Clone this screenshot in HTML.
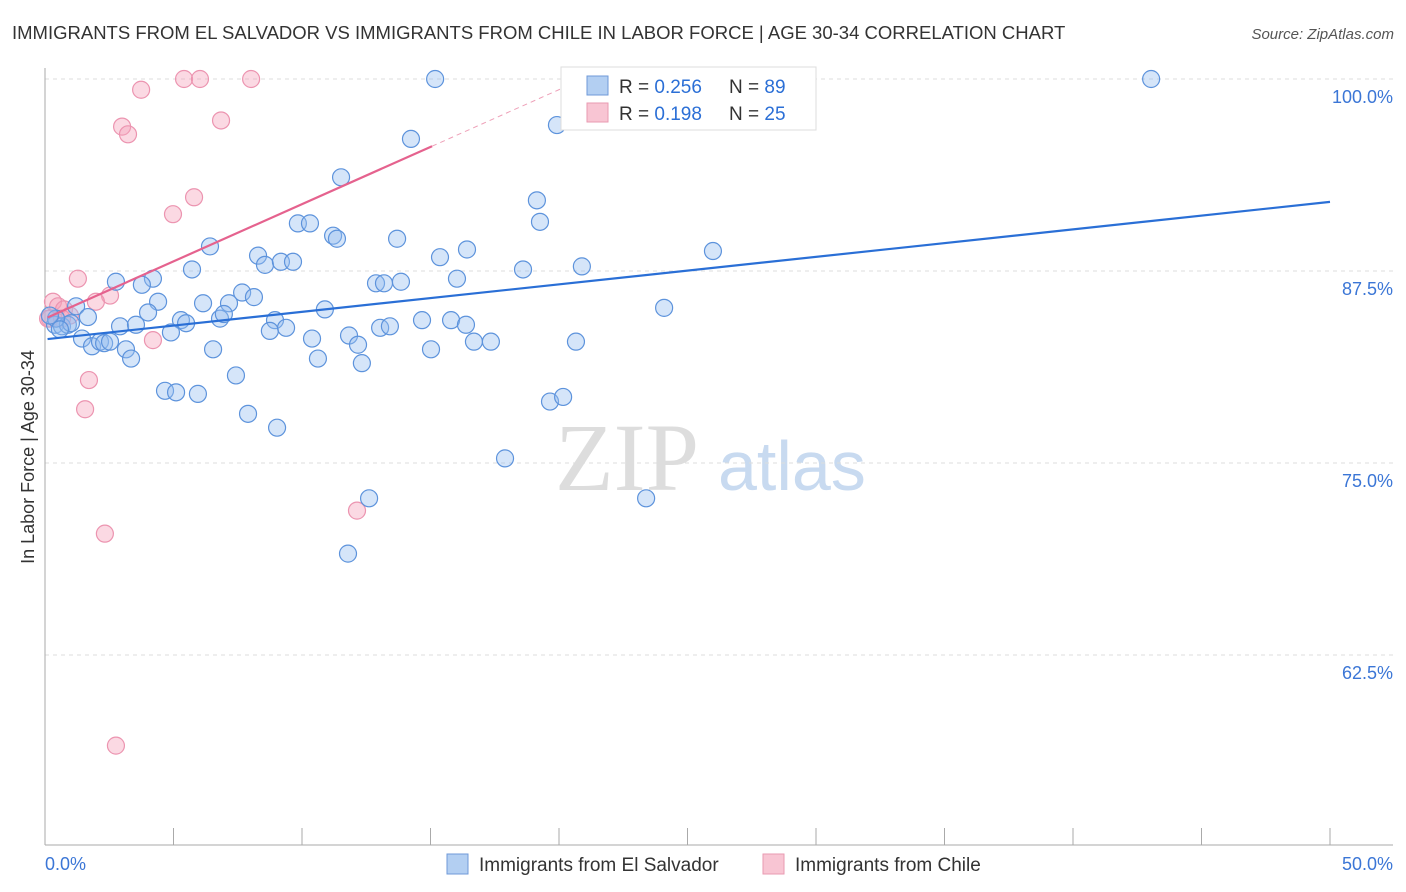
<!DOCTYPE html>
<html><head><meta charset="utf-8"><style>
body{margin:0;background:#fff;font-family:"Liberation Sans",sans-serif;}
svg{display:block}
</style></head><body>
<svg id="c" width="1406" height="892">
<text x="12" y="39" font-size="18.5" fill="#333">IMMIGRANTS FROM EL SALVADOR VS IMMIGRANTS FROM CHILE IN LABOR FORCE | AGE 30-34 CORRELATION CHART</text>
<text x="1394" y="39" font-size="15" fill="#555" font-style="italic" text-anchor="end">Source: ZipAtlas.com</text>
<text x="34" y="457" font-size="18" fill="#333" text-anchor="middle" transform="rotate(-90 34 457)">In Labor Force | Age 30-34</text>
<text x="555" y="490" font-size="96" fill="#ddd" font-family="Liberation Serif,serif">ZIP</text>
<text x="718" y="490" font-size="70" fill="#c8daf0">atlas</text>
<g id="grid"></g><g id="pts"></g><g id="lines"></g>
<g>
<rect x="561" y="67" width="255" height="63" fill="#fff" stroke="#ddd"/>
<rect x="587" y="76" width="21" height="19" fill="#b3cff2" stroke="#6f9ad8"/>
<rect x="587" y="103" width="21" height="19" fill="#f8c5d3" stroke="#e99ab2"/>
<text x="619" y="93" font-size="19" fill="#333">R = <tspan fill="#2b6fd6">0.256</tspan></text>
<text x="729" y="93" font-size="19" fill="#333">N = <tspan fill="#2b6fd6">89</tspan></text>
<text x="619" y="120" font-size="19" fill="#333">R = <tspan fill="#2b6fd6"> 0.198</tspan></text>
<text x="729" y="120" font-size="19" fill="#333">N = <tspan fill="#2b6fd6">25</tspan></text>
</g>
<g>
<rect x="447" y="854" width="21" height="20" fill="#b3cff2" stroke="#6f9ad8"/>
<text x="479" y="871" font-size="19" fill="#333">Immigrants from El Salvador</text>
<rect x="763" y="854" width="21" height="20" fill="#f8c5d3" stroke="#e99ab2"/>
<text x="795" y="871" font-size="19" fill="#333">Immigrants from Chile</text>
</g>
</svg>
<script>
const yTicks=[100,87.5,75,62.5];
const yTickLabels=["100.0%","87.5%","75.0%","62.5%"];
const xTickLabels=["0.0%","50.0%"];
const blueX=[15.18,43.04,19.92,14.24,11.52,19.14,19.26,9.84,10.31,6.42,11.21,11.36,13.70,16.42,15.37,25.99,8.29,8.56,9.18,9.65,5.72,18.60,20.89,2.76,4.20,3.77,16.03,12.88,13.19,13.85,7.67,8.13,4.40,6.15,7.16,10.89,1.21,4.01,24.09,1.67,6.81,6.96,5.29,5.49,8.95,14.67,15.80,16.38,0.39,0.66,0.89,1.01,2.92,3.54,4.90,8.75,9.38,11.83,13.04,13.42,1.44,1.83,2.14,2.30,2.53,3.15,3.35,6.54,10.39,12.18,16.69,17.35,20.66,15.02,10.62,12.33,7.43,4.67,5.10,5.95,19.65,20.16,7.90,9.03,17.90,12.61,23.39,11.79,0.43,0.19,0.58];
const blueY=[100,100,97.0,96.1,93.6,92.1,90.7,90.6,90.6,89.1,89.8,89.6,89.6,88.9,88.4,88.8,88.5,87.9,88.1,88.1,87.6,87.6,87.8,86.8,87.0,86.6,87.0,86.7,86.7,86.8,86.1,85.8,85.5,85.4,85.4,85.0,85.2,84.8,85.1,84.5,84.4,84.7,84.3,84.1,84.3,84.3,84.3,84.0,84.0,83.9,84.0,84.1,83.9,84.0,83.5,83.6,83.8,83.3,83.8,83.9,83.1,82.6,82.9,82.8,82.9,82.4,81.8,82.4,83.1,82.7,82.9,82.9,82.9,82.4,81.8,81.5,80.7,79.7,79.6,79.5,79.0,79.3,78.2,77.3,75.3,72.7,72.7,69.1,84.4,84.6,83.7];
const pinkX=[5.41,6.03,8.02,3.74,6.85,3.00,3.23,5.80,4.98,1.28,2.53,1.98,0.31,0.51,0.74,0.97,0.19,4.20,1.71,1.56,12.14,2.33,2.76,0.12,0.66];
const pinkY=[100,100,100,99.3,97.3,96.9,96.4,92.3,91.2,87.0,85.9,85.5,85.5,85.2,85.0,84.6,84.4,83.0,80.4,78.5,71.9,70.4,56.6,84.4,84.4];
const blueTrend=[83.07,92.0];
const pinkTrend=[84.4,100.2];
const NS="http://www.w3.org/2000/svg";
const X0=45,X1=1330,Y0=79,PXY=15.36;
const xs=v=>X0+v/50*(X1-X0);
const ys=v=>Y0+(100-v)*PXY;
function mk(tag,attrs,parent){const e=document.createElementNS(NS,tag);for(const k in attrs)e.setAttribute(k,attrs[k]);parent.appendChild(e);return e;}
const grid=document.getElementById('grid');
yTicks.forEach((t,i)=>{
  const l=mk('line',{x1:X0,x2:1393,y1:ys(t),y2:ys(t),stroke:'#ddd','stroke-dasharray':'4,4'},grid);
  
  
  const tx=mk('text',{x:1393,y:ys(t)+24,'font-size':18,fill:'#3b76d6','text-anchor':'end'},grid);
  tx.textContent=yTickLabels[i];
  
  
});
const ax=mk('line',{x1:X0,x2:X0,y1:68,y2:845,stroke:'#aaa'},grid);


const bx=mk('line',{x1:X0,x2:1393,y1:845,y2:845,stroke:'#aaa'},grid);


for(let k=0;k<=10;k++){
  const t=mk('line',{x1:xs(k*5),x2:xs(k*5),y1:828,y2:845,stroke:'#aaa'},grid);
  
  
}
const xl0=mk('text',{x:45,y:870,'font-size':18,fill:'#3b76d6'},grid);xl0.textContent=xTickLabels[0];


const xl1=mk('text',{x:1393,y:870,'font-size':18,fill:'#3b76d6','text-anchor':'end'},grid);xl1.textContent=xTickLabels[1];


const pts=document.getElementById('pts');
pinkX.forEach((x,i)=>{
  const c=mk('circle',{cx:xs(x),cy:ys(pinkY[i]),r:8.5,fill:'rgba(245,160,185,0.4)',stroke:'#ec94b0','stroke-width':1.2},pts);
  
  
});
blueX.forEach((x,i)=>{
  const c=mk('circle',{cx:xs(x),cy:ys(blueY[i]),r:8.5,fill:'rgba(150,190,240,0.4)',stroke:'#5d93dc','stroke-width':1.2},pts);
  
  
});
const lines=document.getElementById('lines');
const bl=mk('line',{x1:xs(0.1),y1:ys(blueTrend[0]),x2:xs(50),y2:ys(blueTrend[1]),stroke:'#2a6fd6','stroke-width':2.2},lines);


const pf=v=>pinkTrend[0]+(pinkTrend[1]-pinkTrend[0])*v/21.2;
const pl=mk('line',{x1:xs(0.1),y1:ys(pf(0.1)),x2:xs(15.06),y2:ys(pf(15.06)),stroke:'#e5628e','stroke-width':2.2},lines);


const pd=mk('line',{x1:xs(15.06),y1:ys(pf(15.06)),x2:xs(21.2),y2:ys(pf(21.2)),stroke:'#eea0b8','stroke-width':1,'stroke-dasharray':'5,4'},lines);


</script>
</body></html>
